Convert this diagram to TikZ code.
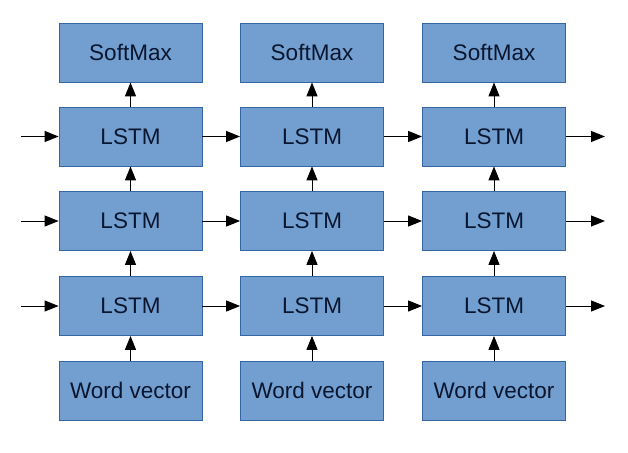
\documentclass[tikz,border=0pt]{standalone}
\usepackage{fontspec}
\setmainfont{Liberation Sans}
\usetikzlibrary{arrows.meta}
\definecolor{boxfill}{HTML}{729FCF}
\definecolor{boxline}{HTML}{3465A4}
\definecolor{boxtext}{HTML}{0A1630}
\begin{document}
\begin{tikzpicture}[x=1pt,y=-1pt,
  blk/.style={draw=boxline,line width=0.8pt,fill=boxfill,minimum width=143pt,minimum height=59pt,inner sep=0pt,font=\fontsize{22.5pt}{26pt}\selectfont,text=boxtext},
  arr/.style={-{Triangle[length=14pt,width=11pt]},line width=1pt}]
\useasboundingbox (0,0) rectangle (628,452);
\foreach \c/\x in {1/130.5,2/312,3/494}{
  \node[blk] (s\c) at (\x,52.5) {SoftMax};
  \node[blk] (c\c) at (\x,136.5) {LSTM};
  \node[blk] (b\c) at (\x,221) {LSTM};
  \node[blk] (a\c) at (\x,306) {LSTM};
  \node[blk] (w\c) at (\x,390.5) {Word vector};
  \draw[arr] (w\c) -- (a\c);
  \draw[arr] (a\c) -- (b\c);
  \draw[arr] (b\c) -- (c\c);
  \draw[arr] (c\c) -- (s\c);
}
\foreach \r/\y in {a/306,b/221,c/136.5}{
  \coordinate (in\r) at (21,\y);
  \coordinate (out\r) at (605,\y);
  \draw[arr] (in\r) -- (\r1);
  \draw[arr] (\r1) -- (\r2);
  \draw[arr] (\r2) -- (\r3);
  \draw[arr] (\r3) -- (out\r);
}
\end{tikzpicture}
\end{document}
